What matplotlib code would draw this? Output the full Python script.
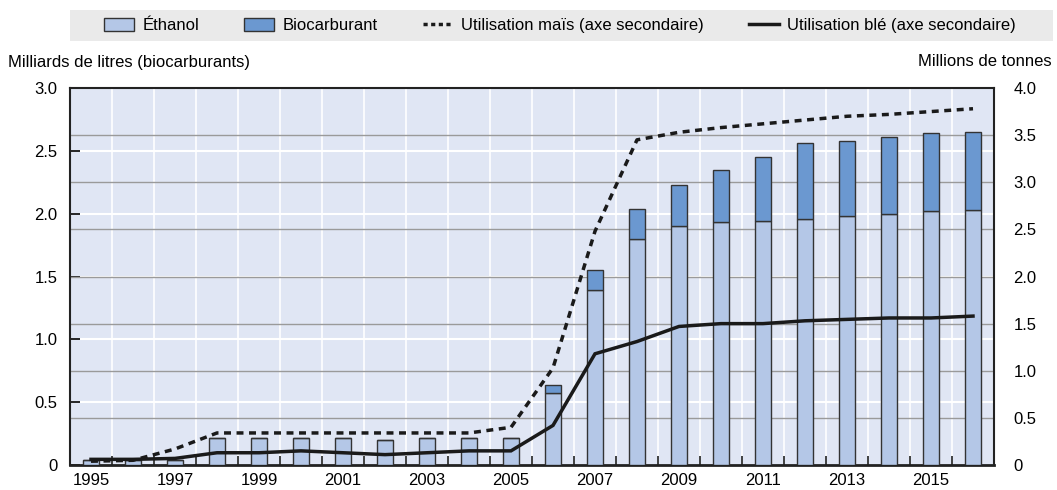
import numpy as np
import matplotlib
matplotlib.use("Agg")
import matplotlib.pyplot as plt
from matplotlib.patches import Patch, Rectangle
from matplotlib.lines import Line2D

plt.rcParams['font.family'] = ['Liberation Sans', 'DejaVu Sans']

years = np.arange(1995, 2017)

# Milliards de litres
ethanol = [0.04, 0.04, 0.04, 0.215, 0.215, 0.215, 0.215, 0.20, 0.215, 0.215, 0.215,
           0.57, 1.39, 1.80, 1.90, 1.93, 1.94, 1.96, 1.98, 2.00, 2.02, 2.03]
total = [0.04, 0.04, 0.04, 0.215, 0.215, 0.215, 0.215, 0.20, 0.215, 0.215, 0.215,
         0.64, 1.55, 2.04, 2.23, 2.35, 2.45, 2.565, 2.58, 2.61, 2.64, 2.65]
biocarb = np.array(total) - np.array(ethanol)

# Millions de tonnes
mais = [0.04, 0.05, 0.17, 0.34, 0.34, 0.34, 0.34, 0.34, 0.34, 0.34, 0.40,
        1.03, 2.48, 3.45, 3.53, 3.58, 3.62, 3.66, 3.70, 3.72, 3.75, 3.78]
ble = [0.06, 0.06, 0.07, 0.13, 0.13, 0.15, 0.13, 0.11, 0.13, 0.15, 0.15,
       0.42, 1.18, 1.31, 1.47, 1.50, 1.50, 1.53, 1.545, 1.56, 1.56, 1.58]

c_eth = '#b4c7e7'
c_bio = '#6b98d0'
c_bg = '#e0e6f4'
c_line = '#1a1a1a'
fs = 12

fig = plt.figure(figsize=(10.57, 4.9), dpi=100)
ax = fig.add_axes([70/1057, 1-465/490, (994-70)/1057, (465-88)/490])
ax.set_facecolor(c_bg)

ax.bar(years, ethanol, width=0.4, color=c_eth, edgecolor='#333333', linewidth=1, zorder=3)
ax.bar(years, biocarb, bottom=ethanol, width=0.4, color=c_bio, edgecolor='#333333',
       linewidth=1, zorder=3)

ax.set_xlim(1994.5, 2016.5)
ax.set_ylim(0, 3)

# grid: white for left axis and years, grey for right axis
for x in np.arange(1995.5, 2016, 1):
    ax.axvline(x, color='white', lw=1.2, zorder=1)
for y in np.arange(0.5, 3, 0.5):
    ax.axhline(y, color='white', lw=1.5, zorder=1)
for v in np.arange(0.5, 4, 0.5):
    ax.axhline(v*0.75, color='#9a9a9a', lw=1, zorder=2)

ax.set_yticks(np.arange(0, 3.01, 0.5))
ax.set_yticklabels(['0'] + ['%.1f' % v for v in np.arange(0.5, 3.01, 0.5)])
ax.set_xticks(np.arange(1995, 2016, 2))
ax.set_xticks(np.arange(1995.5, 2016, 1), minor=True)
ax.tick_params(axis='x', which='major', length=0, pad=6, labelsize=fs)
ax.tick_params(axis='x', which='minor', direction='in', length=6.5, width=1.2, color='#222222')
ax.tick_params(axis='y', direction='in', length=7, width=1.2, pad=9, labelsize=fs)
for s in ax.spines.values():
    s.set_linewidth(1.5)
    s.set_color('#222222')
ax.spines['bottom'].set_linewidth(2)

ax2 = ax.twinx()
ax2.plot(years, mais, color=c_line, lw=2.5, linestyle=(0, (2, 1.6)), zorder=4)
ax2.plot(years, ble, color=c_line, lw=2.5, solid_joinstyle='miter', zorder=4)
ax2.set_ylim(0, 4)
ax2.set_yticks(np.arange(0, 4.01, 0.5))
ax2.set_yticklabels(['0'] + ['%.1f' % v for v in np.arange(0.5, 4.01, 0.5)])
ax2.tick_params(axis='y', length=0, pad=14, labelsize=fs)
for s in ax2.spines.values():
    s.set_visible(False)

fig.text(8/1057, 1-62/490, 'Milliards de litres (biocarburants)', fontsize=fs,
         ha='left', va='center')
fig.text(1052/1057, 1-62/490, 'Millions de tonnes', fontsize=fs, ha='right', va='center')

# legend band
fig.patches.append(Rectangle((70/1057, 1-41/490), (1053-70)/1057, 31/490,
                             transform=fig.transFigure, facecolor='#eaeaea',
                             edgecolor='none', zorder=0))
handles = [Patch(facecolor=c_eth, edgecolor='#333333', lw=1),
           Patch(facecolor=c_bio, edgecolor='#333333', lw=1),
           Line2D([], [], color=c_line, lw=2.5, linestyle=(0, (1.2, 1.0))),
           Line2D([], [], color=c_line, lw=2.5)]
labels = ['Éthanol', 'Biocarburant', 'Utilisation maïs (axe secondaire)',
          'Utilisation blé (axe secondaire)']
fig.legend(handles, labels, loc='center left', ncol=4, mode='expand',
           bbox_to_anchor=(104/1057, 1-41/490, (1016-104)/1057, 31/490),
           frameon=False, fontsize=fs, handlelength=1.8, handleheight=0.9,
           handletextpad=0.5, borderaxespad=0, borderpad=0)

fig.savefig('out.png', dpi=100)
